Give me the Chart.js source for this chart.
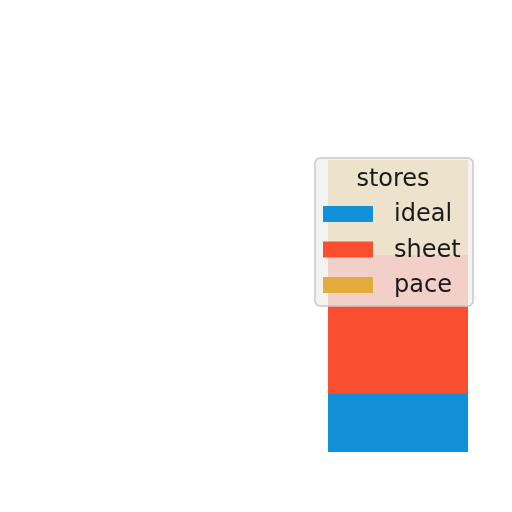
<!DOCTYPE html>
<html>
<head>
<meta charset="utf-8">
<script src="https://cdn.jsdelivr.net/npm/chart.js@4"></script>
<style>
  html, body { margin: 0; padding: 0; background: #fff; }
  #chart { display: block; }
</style>
</head>
<body>
<canvas id="chart" width="512" height="512"></canvas>
<script>
// data
const categories = ['stores'];
const seriesNames = ['ideal', 'sheet', 'pace'];
const ideal = [2.0];
const sheet = [4.8];
const pace = [3.3];
const colors = ['#1290d8', '#fa4e30', '#e2ad3c'];
const legendTitle = 'stores';

const seriesValues = [ideal, sheet, pace];
const total = ideal[0] + sheet[0] + pace[0];

// legend drawn on top of the bars, half see-through like the original
const overlayLegend = {
  id: 'overlayLegend',
  afterDraw(chart) {
    const ctx = chart.ctx;
    const x = 315, y = 158, w = 158, h = 148, r = 5;
    ctx.save();
    ctx.beginPath();
    ctx.roundRect(x, y, w, h, r);
    ctx.fillStyle = 'rgba(240,240,240,0.8)';
    ctx.fill();
    ctx.strokeStyle = '#c8c8c8';
    ctx.lineWidth = 1.5;
    ctx.stroke();

    ctx.font = '24px "DejaVu Sans"';
    ctx.fillStyle = '#1a1a1a';
    ctx.textBaseline = 'middle';
    ctx.textAlign = 'center';
    ctx.fillText(legendTitle, 393, 180);

    ctx.textAlign = 'left';
    chart.data.datasets.forEach((ds, i) => {
      const cy = 214 + i * 35.5;
      ctx.fillStyle = ds.backgroundColor;
      ctx.fillRect(323, cy - 8, 50, 16);
      ctx.fillStyle = '#1a1a1a';
      ctx.fillText(ds.label, 394, cy + 1);
    });
    ctx.restore();
  }
};

new Chart(document.getElementById('chart'), {
  type: 'bar',
  data: {
    labels: categories,
    datasets: seriesNames.map((name, i) => ({
      label: name,
      data: seriesValues[i],
      backgroundColor: colors[i],
      borderWidth: 0,
      barPercentage: 1,
      categoryPercentage: 1
    }))
  },
  options: {
    responsive: false,
    animation: false,
    layout: { padding: { left: 328, right: 44, top: 160, bottom: 60 } },
    scales: {
      x: { stacked: true, display: false },
      y: { stacked: true, display: false, min: 0, max: total }
    },
    plugins: {
      legend: { display: false },
      tooltip: { enabled: false }
    }
  },
  plugins: [overlayLegend]
});
</script>
</body>
</html>
